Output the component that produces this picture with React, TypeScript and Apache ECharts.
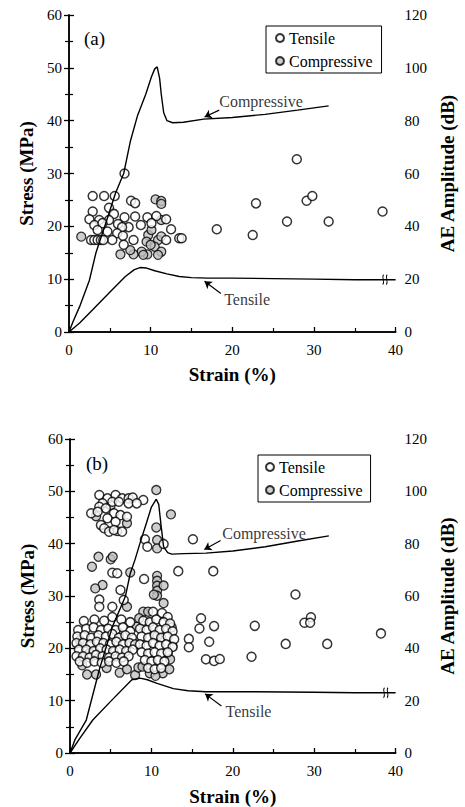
import React, { useEffect, useRef } from "react";
import * as echarts from "echarts";

const FONT = "'Liberation Serif', 'Times New Roman', serif";

// ---------- Panel (a) ----------
const compCurveA: number[][] = [
  [0, 0], [0.5, 2], [1.3, 4.8], [2.5, 9.8], [3.3, 15], [4.5, 20.6], [5.7, 26.3], [6.7, 30],
  [7.5, 36], [8.4, 41], [9.4, 45], [10.1, 48.3], [10.5, 49.8], [10.8, 50.2], [11.1, 48],
  [11.3, 45], [11.6, 41.5], [12.0, 40], [12.7, 39.6], [14, 39.7], [16.5, 40.3], [20, 40.6],
  [24, 41.2], [28, 42], [31.8, 42.8],
];
const tensCurveA: number[][] = [
  [0, 0], [1.3, 1.7], [2.9, 4.2], [4.9, 7.4], [6.9, 10.5], [8, 11.8], [8.7, 12.2], [9.5, 12.1],
  [10.5, 11.6], [12.0, 11], [13.5, 10.5], [15, 10.3], [17, 10.2], [20, 10.2], [25, 10.1],
  [30, 10], [35, 9.9], [40, 9.9],
];
const tensPtsA: number[][] = [
  [6.8, 60], [2.9, 51.5], [4.3, 51.5], [5.6, 51.5], [4.9, 47], [7.6, 49.7], [8.1, 48.8],
  [2.9, 45.6], [5.5, 44.7], [6.8, 43.4], [8.1, 43.7], [9.6, 43.4], [10.7, 43.9], [11.9, 42.7],
  [2.5, 42.7], [3.7, 42.4], [4.9, 42.4], [3.1, 40.5], [4.1, 41.2], [6.0, 40.9], [7.3, 39.7],
  [6.5, 39.7], [8.8, 40.5], [10.1, 41.2], [3.5, 38.6], [4.7, 38.0], [5.9, 37.4], [6.6, 36.4],
  [12.5, 38.9], [7.9, 34.8], [5.3, 34.8], [2.7, 34.8], [3.1, 34.8], [3.5, 34.8], [3.9, 34.8],
  [4.2, 34.8], [6.7, 33], [11.9, 34.8], [13.5, 35.5], [13.8, 35.5], [18.1, 38.9], [22.5, 36.7],
  [22.9, 48.7], [27.9, 65.4], [29.1, 49.7], [29.8, 51.5], [26.7, 41.8], [31.8, 41.8], [38.4, 45.6],
];
const compPtsA: number[][] = [
  [1.5, 36.1], [10.6, 50.2], [11.3, 49.6], [11.3, 48.5], [11.3, 42.4], [9.7, 36.7], [10.1, 38.6],
  [10.9, 34.8], [11.3, 36.2], [10.5, 32.3], [11.3, 30.4], [9.6, 29.4], [8.9, 30.4], [7.9, 29.4],
  [6.3, 29.4], [10.9, 29.2], [9.5, 34.2], [10.0, 33], [7.5, 31], [9.1, 29.2],
];

// ---------- Panel (b) ----------
const compCurveB: number[][] = [
  [0, 0], [0.6, 2.5], [2.0, 6.3], [3.6, 15.9], [5.2, 24.1], [6.8, 29.9], [7.4, 34.3], [8.0, 37],
  [8.6, 40.1], [9.4, 44], [10.0, 47], [10.6, 48.5], [10.9, 47.5], [11.2, 43.3], [11.5, 39.4],
  [12.0, 38.3], [12.5, 38], [14, 38.1], [16.7, 38.2], [20, 38.6], [24, 39.4], [28, 40.5], [31.8, 41.5],
];
const tensCurveB: number[][] = [
  [0, 0], [1.2, 2.8], [2.8, 6.3], [5.2, 10.2], [7.6, 14], [8.6, 14.3], [9.5, 14], [10.7, 13.3],
  [12.7, 12.3], [14.5, 11.9], [16.7, 11.7], [22.7, 11.7], [30, 11.6], [35, 11.5], [40, 11.5],
];
const tensPtsB: number[][] = [
  // upper group
  [3.6, 98.6], [4.6, 97.3], [5.6, 98.6], [6.4, 97.3], [7.2, 97.3], [7.7, 97.6], [9.0, 96.7],
  [4.0, 95.4], [5.2, 96], [6.0, 96], [7.2, 95.4], [8.2, 95.4], [3.6, 94.1], [4.4, 93.5],
  [2.6, 91.6], [3.4, 92.2], [5.4, 91.6], [6.2, 90.9], [7.0, 90.3], [4.6, 89.7], [5.6, 88.4],
  [3.8, 87.1], [4.2, 85.9], [4.8, 84.6], [5.4, 85.2], [6.4, 84.6],
  // middle
  [9.2, 81.7], [9.5, 78.8], [11.5, 79.9], [15.1, 81.7], [13.3, 69.5], [17.6, 69.5], [5.2, 68.9],
  [5.8, 68.7], [9.1, 66.5], [6.2, 62.3], [3.6, 58.6], [3.6, 55.9], [6.6, 58.5], [5.2, 55.9], [1.7, 50.4],
  // right scattered
  [16.1, 51.5], [15.9, 47.6], [17.7, 48.5], [14.6, 43.6], [14.6, 40.4], [17.1, 42.5], [16.7, 35.8],
  [17.7, 35.2], [18.4, 35.9], [22.3, 36.8], [22.7, 48.6], [27.7, 60.6], [28.8, 49.8], [29.6, 51.9],
  [29.5, 49.8], [26.5, 41.7], [31.6, 41.7], [38.2, 45.7],
  // dense left cluster
  [3.0, 51], [4.2, 50.5], [5.2, 52], [6.3, 51], [7.4, 50],
  [1.0, 47], [2.0, 47.5], [2.9, 48], [3.8, 47], [4.7, 47.5], [5.6, 47], [6.5, 48], [7.4, 46.5],
  [0.9, 44.5], [1.8, 45], [2.6, 44], [3.5, 45], [4.4, 44.5], [5.2, 45.5], [6.0, 44], [6.8, 45], [7.6, 44],
  [0.8, 42], [1.6, 42], [2.5, 41.5], [3.3, 42.5], [4.1, 42], [4.9, 41.5], [5.7, 42.5], [6.5, 41.5], [7.3, 42], [8.0, 41.5],
  [1.1, 39.5], [2.0, 39.5], [2.9, 39], [3.7, 40], [4.5, 39.5], [5.3, 39], [6.1, 39.5], [6.9, 39], [7.7, 39.5],
  [0.8, 37], [1.6, 37], [2.4, 36.5], [3.2, 37.5], [4.0, 37], [4.8, 36.5], [5.6, 37], [6.4, 36.5], [7.2, 37],
  [1.2, 35], [2.1, 34.5], [3.0, 35], [3.9, 34.5], [4.8, 35], [5.7, 34.5], [6.6, 35],
  // dense right cluster
  [10.2, 54], [11.3, 53.5], [12.0, 52],
  [9.0, 50.5], [9.8, 50], [10.6, 51], [11.5, 50], [12.3, 49.5],
  [8.6, 47.5], [9.4, 47], [10.2, 48], [11.0, 47], [11.8, 47.5], [12.6, 46.5],
  [8.8, 44.5], [9.6, 44], [10.4, 45], [11.2, 44], [12.0, 44.5], [12.8, 43.5],
  [8.6, 41.5], [9.4, 41], [10.2, 42], [11.0, 41], [11.8, 41.5], [12.6, 40.5],
  [8.8, 38.5], [9.6, 38], [10.4, 38.5], [11.2, 38], [12.0, 38.5],
  [9.2, 35.5], [10.0, 35], [10.8, 35.5], [11.6, 35],
  [9.6, 32.5], [10.4, 32], [11.2, 32.5],
];
const compPtsB: number[][] = [
  [10.6, 100.5], [12.4, 91.2], [10.6, 86.2], [5.0, 94.7], [7.0, 87.8], [5.8, 84.8], [3.2, 90.5],
  [10.7, 81.4], [10.7, 78.2], [3.5, 75], [2.7, 71.2], [5.0, 74], [5.25, 75], [7.4, 69],
  [10.7, 67.7], [10.7, 65.8], [10.7, 63.9], [10.7, 62], [10.7, 60.1], [11.5, 64], [4.0, 64.2],
  [3.1, 62.9], [7.0, 55.9], [9.0, 54], [9.6, 54], [10.3, 60.5], [11.5, 57.3], [1.2, 43], [1.6, 36.9],
  [2.4, 38.2], [6.0, 45.8], [7.4, 42], [8.2, 48.3], [10.7, 44.5], [12.0, 38.2], [12.6, 40.8],
  [2.1, 30], [3.2, 30], [6.1, 30.7], [8.0, 29.8], [8.4, 32.7], [8.9, 33], [11.4, 30.5], [12.2, 32],
  [12.3, 35.8], [1.5, 33.5], [4.5, 32.5], [7.0, 32], [9.8, 30.5], [10.5, 29.5], [12.5, 48], [8.5, 51.5],
];

// annotations: [textX, textY, arrowFromX, arrowFromY, arrowToX, arrowToY]
const annotCompA = [18.4, 43.6, 18.4, 42.0, 16.6, 40.7];
const annotTensA = [19.0, 6.1, 18.6, 7.3, 16.6, 9.6];
const annotCompB = [18.7, 41.9, 18.5, 40.6, 16.5, 38.9];
const annotTensB = [19.1, 7.9, 18.6, 9.0, 16.6, 11.3];
const breakA = [38.7, 9.9];
const breakB = [38.8, 11.5];

const panelLabels = ["(a)", "(b)"];
const legendNames = ["Tensile", "Compressive"];

export default function App() {
  const ref = useRef<HTMLDivElement>(null);
  useEffect(() => {
    if (!ref.current) return;
    const chart = echarts.init(ref.current, undefined, { renderer: "svg" });

    const grids = [
      { left: 69, top: 15, width: 334, height: 317 },
      { left: 70, top: 439, width: 335, height: 314 },
    ];

    const axisLine = { show: true, lineStyle: { color: "#000", width: 1.5 } };
    const labelStyle = { color: "#000", fontFamily: FONT, fontSize: 15 };
    const nameStyle = { color: "#000", fontFamily: FONT, fontSize: 19, fontWeight: "bold" as const };

    const xAxes: any[] = [];
    const yAxes: any[] = [];
    grids.forEach((_, gi) => {
      xAxes.push({
        type: "value", gridIndex: gi, min: 0, max: 40, interval: 10, position: "bottom",
        name: "Strain (%)", nameLocation: "middle", nameGap: gi === 0 ? 33 : 34, nameTextStyle: nameStyle,
        axisLine, axisTick: { inside: true, length: 5, lineStyle: { color: "#000", width: 1.3 } },
        minorTick: { show: true, splitNumber: 2, length: 4, lineStyle: { color: "#000", width: 1.2 } },
        axisLabel: { ...labelStyle, margin: 10 }, splitLine: { show: false },
      });
      xAxes.push({
        type: "value", gridIndex: gi, min: 0, max: 40, position: "top",
        axisLine, axisTick: { show: false }, axisLabel: { show: false }, splitLine: { show: false },
      });
      yAxes.push({
        type: "value", gridIndex: gi, min: 0, max: 60, interval: 10, position: "left",
        name: "Stress (MPa)", nameLocation: "middle", nameRotate: 90, nameGap: 29, nameTextStyle: nameStyle,
        axisLine, axisTick: { inside: true, length: 5, lineStyle: { color: "#000", width: 1.3 } },
        minorTick: { show: true, splitNumber: 2, length: 4, lineStyle: { color: "#000", width: 1.2 } },
        axisLabel: { ...labelStyle, margin: 7 }, splitLine: { show: false },
      });
      yAxes.push({
        type: "value", gridIndex: gi, min: 0, max: 120, interval: 20, position: "right",
        name: "AE Amplitude (dB)", nameLocation: "middle", nameRotate: 90, nameGap: 42, nameTextStyle: nameStyle,
        axisLine, axisTick: { inside: true, length: 5, lineStyle: { color: "#000", width: 1.3 } },
        minorTick: { show: true, splitNumber: 2, length: 4, lineStyle: { color: "#000", width: 1.2 } },
        axisLabel: { ...labelStyle, margin: 9 }, splitLine: { show: false },
      });
    });

    const panels = [
      { comp: compCurveA, tens: tensCurveA, tp: tensPtsA, cp: compPtsA, ac: annotCompA, at: annotTensA, br: breakA },
      { comp: compCurveB, tens: tensCurveB, tp: tensPtsB, cp: compPtsB, ac: annotCompB, at: annotTensB, br: breakB },
    ];

    const series: any[] = [];
    panels.forEach((p, i) => {
      const xi = i * 2;
      const yl = i * 2;
      const yr = i * 2 + 1;
      series.push({
        type: "scatter", name: "Compressive", xAxisIndex: xi, yAxisIndex: yr, data: p.cp,
        symbol: "circle", symbolSize: 9, z: 2,
        itemStyle: { color: "#c2c2c2", borderColor: "#000", borderWidth: 1.3 },
      });
      series.push({
        type: "scatter", name: "Tensile", xAxisIndex: xi, yAxisIndex: yr, data: p.tp,
        symbol: "circle", symbolSize: 9, z: 3,
        itemStyle: { color: "#fff", borderColor: "#000", borderWidth: 1.5 },
      });
      series.push({
        type: "line", name: "compCurve" + i, xAxisIndex: xi, yAxisIndex: yl, data: p.comp,
        showSymbol: false, symbol: "none", z: 4, lineStyle: { color: "#000", width: 1.4 },
      });
      series.push({
        type: "line", name: "tensCurve" + i, xAxisIndex: xi, yAxisIndex: yl, data: p.tens,
        showSymbol: false, symbol: "none", z: 4, lineStyle: { color: "#000", width: 1.4 },
        markPoint: {
          silent: true,
          symbol: "path://M3,0 C0,2 5,6 2,9 M7,0 C4,2 9,6 6,9",
          symbolSize: [8, 10],
          symbolKeepAspect: true,
          itemStyle: { color: "transparent", borderColor: "#000", borderWidth: 1 },
          label: { show: false },
          data: [{ coord: p.br }],
        },
      });
      series.push({
        type: "scatter", name: "annot" + i, xAxisIndex: xi, yAxisIndex: yl, symbolSize: 0, z: 5,
        silent: true,
        data: [
          { name: "Compressive", value: [p.ac[0], p.ac[1]] },
          { name: "Tensile", value: [p.at[0], p.at[1]] },
        ],
        label: {
          show: true, position: "right", distance: 0, formatter: "{b}",
          color: "#000", fontFamily: FONT, fontSize: 16,
        },
        markLine: {
          silent: true, symbol: ["none", "arrow"], symbolSize: 7,
          lineStyle: { color: "#000", width: 1.2, type: "solid" },
          label: { show: false },
          data: [
            [{ coord: [p.ac[2], p.ac[3]] }, { coord: [p.ac[4], p.ac[5]] }],
            [{ coord: [p.at[2], p.at[3]] }, { coord: [p.at[4], p.at[5]] }],
          ],
        },
      });
    });

    const legendBase = {
      orient: "vertical" as const,
      data: legendNames.map((n) => ({ name: n, icon: "circle" })),
      itemWidth: 8, itemHeight: 8, itemGap: 7,
      borderColor: "#000", borderWidth: 1,
      textStyle: { color: "#000", fontFamily: FONT, fontSize: 16 },
      selectedMode: false,
    };

    chart.setOption({
      animation: false,
      backgroundColor: "#fff",
      textStyle: { fontFamily: FONT, color: "#000" },
      title: [
        { text: panelLabels[0], left: 79, top: 24, textStyle: { fontFamily: FONT, fontSize: 19, fontWeight: "normal", color: "#000" } },
        { text: panelLabels[1], left: 81, top: 449, textStyle: { fontFamily: FONT, fontSize: 19, fontWeight: "normal", color: "#000" } },
      ],
      legend: [
        { ...legendBase, left: 266, top: 26, padding: [4, 9, 4, 9] },
        { ...legendBase, left: 258, top: 455, padding: [4, 8, 4, 7] },
      ],
      grid: grids,
      xAxis: xAxes,
      yAxis: yAxes,
      series,
    });

    return () => chart.dispose();
  }, []);

  return (
    <div
      ref={ref}
      style={{ position: "fixed", left: 0, top: 0, width: 465, height: 807, background: "#fff" }}
    />
  );
}
